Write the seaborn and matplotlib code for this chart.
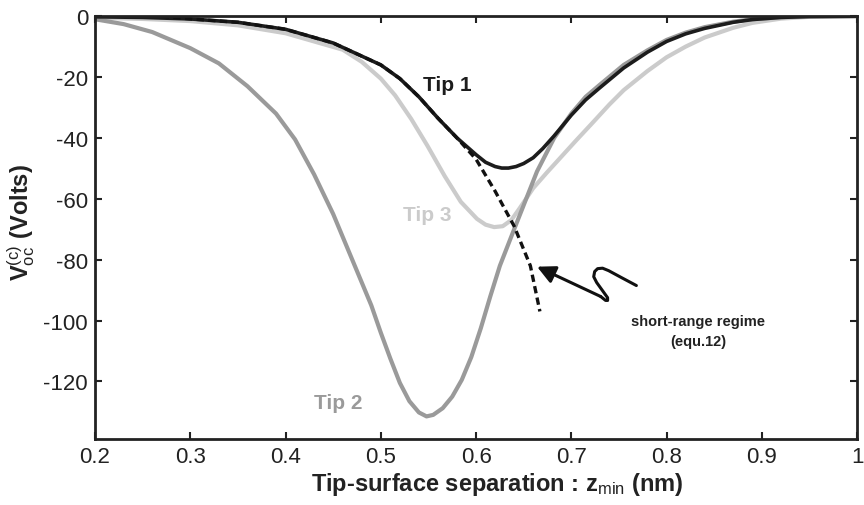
import numpy as np
import pandas as pd
import matplotlib
matplotlib.use("Agg")
import matplotlib.pyplot as plt
import seaborn as sns

# ---- data ----
tip1_x = [0.20, 0.25, 0.30, 0.35, 0.40, 0.45, 0.50, 0.52, 0.54, 0.56, 0.58, 0.60, 0.61, 0.62, 0.627, 0.634,
          0.642, 0.65, 0.66, 0.67, 0.682, 0.70, 0.715, 0.73, 0.755, 0.78, 0.80, 0.82, 0.84, 0.87, 0.89, 0.92, 0.95, 1.00]
tip1_y = [-0.2, -0.4, -0.9, -2.0, -4.3, -8.8, -16.0, -20.5, -26.5, -33.5, -40.0, -45.5, -48.0, -49.4, -49.9, -49.9,
          -49.4, -48.4, -46.5, -43.5, -39.3, -32.5, -27.5, -23.5, -17.0, -11.8, -8.3, -5.8, -4.0, -2.0, -1.1, -0.4, -0.1, 0.0]

tip2_x = [0.20, 0.23, 0.26, 0.30, 0.33, 0.36, 0.39, 0.41, 0.43, 0.45, 0.47, 0.49, 0.50, 0.51, 0.52, 0.53, 0.54,
          0.548, 0.555, 0.565, 0.575, 0.585, 0.595, 0.605, 0.615, 0.625, 0.64, 0.652, 0.664, 0.682, 0.70, 0.715, 0.73,
          0.755, 0.78, 0.80, 0.82, 0.84, 0.87, 0.89, 0.92, 0.95, 1.00]
tip2_y = [-1.0, -2.6, -5.2, -10.5, -15.5, -23.0, -32.0, -40.5, -52.0, -65.0, -80.0, -95.0, -104.0, -112.5, -120.5, -126.5, -130.2,
          -131.5, -131.0, -128.8, -125.0, -119.5, -112.0, -102.5, -92.0, -82.0, -70.0, -60.5, -51.0, -40.0, -32.0, -26.5, -22.5,
          -16.0, -11.2, -7.8, -5.4, -3.6, -1.8, -1.0, -0.3, -0.1, 0.0]

tip3_x = [0.20, 0.25, 0.30, 0.35, 0.40, 0.46, 0.48, 0.50, 0.515, 0.532, 0.549, 0.567, 0.584, 0.601, 0.61, 0.619,
          0.628, 0.637, 0.646, 0.66, 0.674, 0.69, 0.706, 0.72, 0.74, 0.755, 0.78, 0.80, 0.82, 0.84, 0.87, 0.89, 0.92, 0.95, 1.00]
tip3_y = [-0.5, -0.9, -1.6, -3.0, -5.6, -11.0, -15.0, -20.5, -26.0, -33.8, -42.6, -52.5, -61.0, -66.6, -68.5, -69.3,
          -69.0, -67.0, -63.0, -56.5, -51.5, -46.0, -40.5, -35.8, -29.0, -24.3, -18.0, -13.5, -10.0, -7.0, -3.8, -2.2, -0.8, -0.2, 0.0]

sr_x = [0.27, 0.30, 0.35, 0.40, 0.45, 0.50, 0.52, 0.54, 0.56, 0.58, 0.60, 0.62, 0.64, 0.657, 0.667]
sr_y = [0.0, -0.9, -2.0, -4.3, -8.8, -16.0, -20.5, -26.5, -33.5, -40.0, -47.0, -57.5, -69.0, -82.0, -97.0]

x_ticks = [0.2, 0.3, 0.4, 0.5, 0.6, 0.7, 0.8, 0.9, 1.0]
x_ticklabels = ["0.2", "0.3", "0.4", "0.5", "0.6", "0.7", "0.8", "0.9", "1"]
y_ticks = [0, -20, -40, -60, -80, -100, -120]

# annotation squiggle (data coords): arrow tip first, then the S-shaped tail
squig_x = [0.664, 0.7308, 0.7360, 0.7381, 0.7381, 0.7328, 0.7266, 0.7235, 0.7245, 0.7276, 0.7328, 0.7391, 0.7527, 0.7683]
squig_y = [-82.3, -92.1, -93.4, -93.4, -92.5, -90.2, -87.5, -85.6, -83.9, -82.95, -82.8, -83.6, -85.9, -88.5]

sns.set_theme(style="ticks")
plt.rcParams["font.family"] = ["Liberation Sans", "DejaVu Sans"]
plt.rcParams["mathtext.fontset"] = "custom"
plt.rcParams["mathtext.rm"] = "Liberation Sans"
plt.rcParams["mathtext.bf"] = "Liberation Sans:bold"
plt.rcParams["mathtext.it"] = "Liberation Sans:italic"
plt.rcParams["axes.unicode_minus"] = False

fig = plt.figure(figsize=(8.64, 5.06), dpi=100)
ax = fig.add_axes([0.110, 0.130, 0.882, 0.836])

sns.lineplot(x=tip3_x, y=tip3_y, color="#cbcbcb", lw=3.0, ax=ax, sort=False)
sns.lineplot(x=tip2_x, y=tip2_y, color="#9a9a9a", lw=3.0, ax=ax, sort=False)
sns.lineplot(x=tip1_x, y=tip1_y, color="#1c1c1c", lw=2.6, ax=ax, sort=False)
sns.lineplot(x=sr_x, y=sr_y, color="#111111", lw=2.4, ax=ax, sort=False, linestyle=(0, (2.2, 1.3)))

# squiggly arrow
ax.plot(squig_x[1:], squig_y[1:], color="#111111", lw=2.2, solid_capstyle="round", solid_joinstyle="round")
ax.annotate("", xy=(squig_x[0], squig_y[0]), xytext=(squig_x[1], squig_y[1]),
            arrowprops=dict(arrowstyle="-|>,head_length=0.9,head_width=0.45", color="#111111", lw=2.2,
                            shrinkA=0, shrinkB=0))

ax.text(0.570, -22.3, "Tip 1", color="#1c1c1c", fontsize=15, fontweight="bold", ha="center", va="center")
ax.text(0.549, -65.0, "Tip 3", color="#cbcbcb", fontsize=15, fontweight="bold", ha="center", va="center")
ax.text(0.455, -127.0, "Tip 2", color="#9a9a9a", fontsize=15, fontweight="bold", ha="center", va="center")
ax.text(0.833, -103.5, "short-range regime\n(equ.12)", color="#222222", fontsize=10.5, fontweight="bold",
        ha="center", va="center", linespacing=1.6)

ax.set_xlim(0.2, 1.0)
ax.set_ylim(-139, 0)
ax.set_xticks(x_ticks)
ax.set_xticklabels(x_ticklabels)
ax.set_yticks(y_ticks)
ax.tick_params(direction="in", length=5, width=1.5, top=True, right=True, labelsize=16, colors="#222222",
               pad=5)
for s in ax.spines.values():
    s.set_linewidth(2.0)
    s.set_color("#222222")
    s.set_visible(True)

ax.set_xlabel(r"Tip-surface separation : $\mathbf{z}_{\mathrm{min}}$ (nm)", fontsize=17, fontweight="bold",
              color="#222222")
ax.xaxis.set_label_coords(0.528, -0.072)
ax.set_ylabel(r"$\mathbf{V}_{\mathrm{oc}}^{\mathrm{(c)}}$ (Volts)", fontsize=17, fontweight="bold",
              color="#222222")
ax.yaxis.set_label_coords(-0.076, 0.515)

fig.savefig("out.png", dpi=100, facecolor="white")
